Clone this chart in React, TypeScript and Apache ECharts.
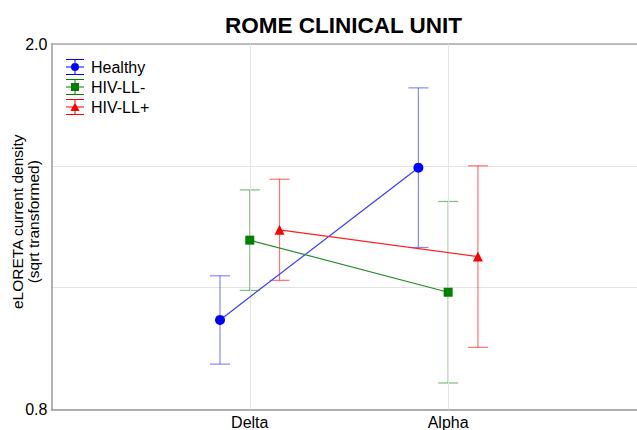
import React, { useEffect, useRef } from "react";
import * as echarts from "echarts";

const categories = ["Delta", "Alpha"];
const seriesNames = ["Healthy", "HIV-LL-", "HIV-LL+"];
const healthyMean = [1.094, 1.594];
const healthyErr = [0.145, 0.262];
const hivNegMean = [1.356, 1.185];
const hivNegErr = [0.165, 0.298];
const hivPosMean = [1.39, 1.302];
const hivPosErr = [0.166, 0.298];
const yTickLabels = ["0.8", "2.0"];

const means = [healthyMean, hivNegMean, hivPosMean];
const errs = [healthyErr, hivNegErr, hivPosErr];
const colors = ["#0000ff", "#008000", "#ff0000"];
const lineColors = ["#3a3aff", "#2a8a2a", "#ff2020"];
const barColors = ["rgba(40,40,255,0.55)", "rgba(0,128,0,0.5)", "rgba(255,0,0,0.55)"];
const symbols = ["circle", "rect", "triangle"];
const symbolSizes = [10, 9, 10];
const dodge = [-0.15, 0, 0.15];

const base = "M0,0H18V1H0Z M0,7.5H18V8.5H0Z M0,15H18V16H0Z M8.5,0H9.5V16H8.5Z ";
const legendIcons = [
  "path://" + base + "M13,8A4,4 0 1 1 5,8A4,4 0 1 1 13,8Z",
  "path://" + base + "M5,4H13V12H5Z",
  "path://" + base + "M9,3.5L13.5,12H4.5Z",
];

const FONT = "Liberation Sans, Arial, sans-serif";

export default function App() {
  const ref = useRef<HTMLDivElement>(null);
  useEffect(() => {
    document.body.style.margin = "0";
    const chart = echarts.init(ref.current!, null, { renderer: "svg" });
    const series: any[] = [];
    seriesNames.forEach((name, si) => {
      const errData = categories.map((_, ci) => [
        ci + 1 + dodge[si],
        means[si][ci] - errs[si][ci],
        means[si][ci] + errs[si][ci],
      ]);
      series.push({
        type: "custom",
        name: name + " error",
        data: errData,
        encode: { x: 0, y: [1, 2] },
        z: 2,
        renderItem: (params: any, api: any) => {
          const x = api.value(0);
          const lo = api.coord([x, api.value(1)]);
          const hi = api.coord([x, api.value(2)]);
          const hw = 10;
          const style = { stroke: barColors[si], lineWidth: 1.2 };
          return {
            type: "group",
            children: [
              { type: "line", shape: { x1: lo[0], y1: lo[1], x2: hi[0], y2: hi[1] }, style },
              { type: "line", shape: { x1: lo[0] - hw, y1: lo[1], x2: lo[0] + hw, y2: lo[1] }, style },
              { type: "line", shape: { x1: hi[0] - hw, y1: hi[1], x2: hi[0] + hw, y2: hi[1] }, style },
            ],
          };
        },
      });
      series.push({
        type: "line",
        name,
        data: categories.map((_, ci) => [ci + 1 + dodge[si], means[si][ci]]),
        symbol: symbols[si],
        symbolSize: symbolSizes[si],
        itemStyle: { color: colors[si], borderColor: colors[si], borderWidth: 0 },
        lineStyle: { color: lineColors[si], width: 1.2 },
        z: 5,
      });
    });
    series.push({
      type: "line",
      name: "grid",
      data: [],
      markLine: {
        silent: true,
        symbol: "none",
        label: { show: false },
        lineStyle: { color: "#e4e4e4", type: "solid", width: 1 },
        data: categories.map((_, ci) => ({ xAxis: ci + 1 })),
      },
      z: 0,
    });
    chart.setOption({
      animation: false,
      backgroundColor: "#ffffff",
      title: {
        text: "ROME CLINICAL UNIT",
        left: 220,
        top: 9,
        textStyle: { fontFamily: FONT, fontWeight: "bold", fontSize: 22.5, color: "#000" },
      },
      legend: {
        orient: "vertical",
        left: 61,
        top: 54,
        itemWidth: 18,
        itemHeight: 16,
        itemGap: 4,
        itemStyle: { borderWidth: 0 },
        lineStyle: { width: 0 },
        textStyle: { fontFamily: FONT, fontSize: 16, color: "#000", padding: [0, 0, 0, 2] },
        data: seriesNames.map((n, i) => ({
          name: n,
          icon: legendIcons[i],
          itemStyle: { color: colors[i], borderColor: colors[i], borderWidth: 0 },
        })),
      },
      grid: { left: 51.4, right: 0, top: 44, bottom: 20.5, show: false, outerBoundsMode: "none", containLabel: false },
      xAxis: [
        {
          type: "value",
          min: 0,
          max: 2.952,
          interval: 1,
          axisLine: { show: true, lineStyle: { color: "#999", width: 1.5 } },
          axisTick: { show: false },
          splitLine: { show: false },
          axisLabel: {
            margin: 5,
            fontFamily: FONT,
            fontSize: 16,
            color: "#000",
            formatter: (v: number) =>
              Number.isInteger(v) && v >= 1 && v <= categories.length ? categories[v - 1] : "",
          },
        },
        {
          type: "value",
          position: "top",
          min: 0,
          max: 2.952,
          axisLine: { show: true, lineStyle: { color: "#aaa", width: 1.5 } },
          axisTick: { show: false },
          axisLabel: { show: false },
          splitLine: { show: false },
        },
      ],
      yAxis: {
        type: "value",
        min: 0.8,
        max: 2.0,
        interval: 0.4,
        name: "eLORETA current density\n(sqrt transformed)",
        nameLocation: "middle",
        nameRotate: 90,
        nameGap: 10,
        nameMoveOverlap: false,
        nameTextStyle: { fontFamily: FONT, fontSize: 15.5, color: "#000", lineHeight: 16, padding: [0, 0, 0, 10] },
        axisLine: { show: true, lineStyle: { color: "#999", width: 1.5 } },
        axisTick: { show: false },
        splitLine: { show: true, lineStyle: { color: "#e4e4e4", width: 1 } },
        axisLabel: {
          margin: 4,
          fontFamily: FONT,
          fontSize: 16,
          color: "#000",
          formatter: (v: number) => {
            const s = v.toFixed(1);
            return yTickLabels.includes(s) ? s : "";
          },
        },
      },
      series,
    });
    return () => chart.dispose();
  }, []);
  return <div ref={ref} style={{ position: "absolute", left: 0, top: 0, width: 637, height: 430, overflow: "hidden" }} />;
}
